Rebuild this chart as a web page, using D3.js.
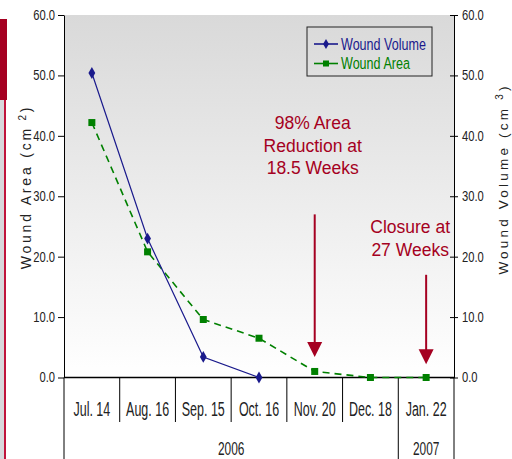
<!DOCTYPE html>
<html><head><meta charset="utf-8">
<script src="https://cdn.jsdelivr.net/npm/d3@7"></script>
<style>body{margin:0;background:#fff}svg{display:block}</style>
</head><body>
<script>
const categories = ["Jul. 14","Aug. 16","Sep. 15","Oct. 16","Nov. 20","Dec. 18","Jan. 22"];
const years = [{label:"2006", from:0, to:6},{label:"2007", from:6, to:7}];
const woundVolume = [50.4, 23.0, 3.4, 0.0, null, null, null];
const woundArea = [42.2, 20.8, 9.6, 6.5, 1.0, 0.0, 0.0];
const yTicks = [0,10,20,30,40,50,60];
const annotations = [
  {lines:["98% Area","Reduction at","18.5 Weeks"], cat:"Nov. 20", arrowFrom:27.0, arrowTo:3.4},
  {lines:["Closure at","27 Weeks"], cat:"Jan. 22", arrowFrom:17.0, arrowTo:2.2, textShift:-16}
];

const W=512,H=459;
const m={l:64,r:454,t:15,b:377.5};
const sans = "'Liberation Sans',Arial,sans-serif";
const NS = 0.8; // horizontal condense factor for tick labels
const red="#a50021", navy="#1a1a8c", green="#008000";

const svg=d3.select("body").append("svg").attr("width",W).attr("height",H);
const defs=svg.append("defs");
const g=defs.append("linearGradient").attr("id","bg").attr("x1",0).attr("y1",0).attr("x2",0).attr("y2",1);
g.append("stop").attr("offset","0%").attr("stop-color","#d9d9d9");
g.append("stop").attr("offset","100%").attr("stop-color","#ffffff");

function narrowText(parent, x, y, txt, size, anchor, color, sc){
  return parent.append("text").attr("transform",`translate(${x},${y}) scale(${sc},1)`)
    .attr("text-anchor",anchor).attr("font-family",sans).attr("font-size",size).attr("fill",color||"#222").text(txt);
}

// left decorative strip
svg.append("rect").attr("x",0).attr("y",19).attr("width",7).attr("height",81).attr("fill",red);
svg.append("rect").attr("x",0).attr("y",100).attr("width",4).attr("height",H-100).attr("fill","#d8d8dc");
svg.append("rect").attr("x",4).attr("y",100).attr("width",2).attr("height",H-100).attr("fill","#c0143c");

const x=d3.scaleBand().domain(categories).range([m.l,m.r]).padding(0);
const y=d3.scaleLinear().domain([0,60]).range([m.b,m.t]);
const y2=d3.scaleLinear().domain([0,60]).range([m.b,m.t]);

svg.append("rect").attr("x",m.l).attr("y",m.t).attr("width",m.r-m.l).attr("height",m.b-m.t).attr("fill","url(#bg)");

// left axis
const la=svg.append("g").attr("transform",`translate(${m.l},0)`)
  .call(d3.axisLeft(y).tickValues(yTicks).tickFormat(d3.format(".1f")).tickSize(6).tickSizeOuter(0));
la.select(".domain").attr("stroke","#000");
la.selectAll(".tick text").attr("font-family",sans).attr("font-size",14).attr("fill","#222")
  .attr("x",-9/NS).attr("transform",`scale(${NS},1)`);

// right axis
const ra=svg.append("g").attr("transform",`translate(${m.r},0)`)
  .call(d3.axisRight(y2).tickValues(yTicks).tickFormat(d3.format(".1f")).tickSize(4).tickSizeOuter(0));
ra.selectAll(".tick line").attr("x1",-4);
ra.selectAll(".tick text").attr("font-family",sans).attr("font-size",14).attr("fill","#222")
  .attr("x",8/NS).attr("transform",`scale(${NS},1)`);

// zero line
svg.append("line").attr("x1",m.l).attr("x2",m.r).attr("y1",y(0)).attr("y2",y(0)).attr("stroke","#000").attr("stroke-width",1.5);

// category axis
const ca=svg.append("g");
categories.forEach((c,i)=>{
  if(i>0){
    const isYear = years.some(yr=>yr.from===i);
    ca.append("line").attr("x1",x(c)).attr("x2",x(c)).attr("y1",y(0)).attr("y2",isYear?H:422).attr("stroke","#000");
  }
  narrowText(ca, x(c)+x.bandwidth()/2, 416, c, 19.5, "middle", "#222", 0.64);
});
ca.append("line").attr("x1",m.l).attr("x2",m.l).attr("y1",y(0)).attr("y2",H).attr("stroke","#000");
ca.append("line").attr("x1",m.r).attr("x2",m.r).attr("y1",y(0)).attr("y2",H).attr("stroke","#000");
years.forEach(yr=>{
  const x0=x(categories[yr.from]), x1=yr.to>=categories.length?m.r:x(categories[yr.to]);
  narrowText(ca, (x0+x1)/2, 455, yr.label, 17.5, "middle", "#222", 0.68);
});

// axis titles
function spaced(sel, parts){
  parts.forEach(p=>{
    const t=sel.append("tspan").text(p.t);
    if(p.sup) t.attr("baseline-shift","super").attr("font-size",10);
  });
}
const lt=svg.append("text").attr("transform","translate(31,187) rotate(-90)").attr("text-anchor","middle")
  .attr("font-family",sans).attr("font-size",14).attr("letter-spacing",2.8).attr("fill","#222");
spaced(lt,[{t:"Wound Area (cm"},{t:" 2",sup:true},{t:")"}]);
const rt=svg.append("text").attr("transform","translate(508,179) rotate(-90)").attr("text-anchor","middle")
  .attr("font-family",sans).attr("font-size",13.5).attr("letter-spacing",3.2).attr("fill","#222");
spaced(rt,[{t:"Wound Volume (cm"},{t:" 3",sup:true},{t:")"}]);

// lines
const cx=c=>x(c)+x.bandwidth()/2;
const volData=categories.map((c,i)=>({c,v:woundVolume[i]})).filter(d=>d.v!==null);
const areaData=categories.map((c,i)=>({c,v:woundArea[i]})).filter(d=>d.v!==null);
const line=d3.line().x(d=>cx(d.c)).y(d=>y(d.v));
svg.append("path").datum(areaData).attr("d",line).attr("fill","none").attr("stroke",green).attr("stroke-width",1.6).attr("stroke-dasharray","7,5");
svg.append("path").datum(volData).attr("d",line.y(d=>y2(d.v))).attr("fill","none").attr("stroke",navy).attr("stroke-width",1.2);
svg.selectAll(".sq").data(areaData).enter().append("rect").attr("x",d=>cx(d.c)-3.5).attr("y",d=>y(d.v)-3.5)
  .attr("width",7).attr("height",7).attr("fill",green);
svg.selectAll(".dm").data(volData).enter().append("path").attr("d",d3.symbol(d3.symbolDiamond,40))
  .attr("transform",d=>`translate(${cx(d.c)},${y2(d.v)})`).attr("fill",navy);

// annotations
annotations.forEach(a=>{
  const ax=cx(a.cat);
  const yStart=y(a.arrowFrom), yTip=y(a.arrowTo);
  svg.append("line").attr("x1",ax).attr("x2",ax).attr("y1",yStart).attr("y2",yTip-12).attr("stroke",red).attr("stroke-width",2);
  svg.append("path").attr("d",`M${ax-7.5},${yTip-15} L${ax+7.5},${yTip-15} L${ax},${yTip} Z`).attr("fill",red);
});
const a1=annotations[0], a2=annotations[1];
a1.lines.forEach((l,i)=>svg.append("text").attr("x",cx(a1.cat)-2).attr("y",129+i*22.5).attr("text-anchor","middle")
  .attr("font-family",sans).attr("font-size",17.5).attr("fill",red).text(l));
a2.lines.forEach((l,i)=>svg.append("text").attr("x",cx(a2.cat)+a2.textShift).attr("y",233+i*22.5).attr("text-anchor","middle")
  .attr("font-family",sans).attr("font-size",17.5).attr("fill",red).text(l));

// legend
const lg=svg.append("g");
lg.append("rect").attr("x",307).attr("y",27).attr("width",125).attr("height",49).attr("fill","none").attr("stroke","#222");
const legendItems=[{name:"Wound Volume",color:navy,sym:"d"},{name:"Wound Area",color:green,sym:"s"}];
legendItems.forEach((it,i)=>{
  const yy=44+i*19.5;
  lg.append("line").attr("x1",314).attr("x2",338).attr("y1",yy).attr("y2",yy).attr("stroke",it.color).attr("stroke-width",1.6);
  if(it.sym==="d") lg.append("path").attr("d",d3.symbol(d3.symbolDiamond,30)).attr("transform",`translate(326,${yy})`).attr("fill",it.color);
  else lg.append("rect").attr("x",323).attr("y",yy-3).attr("width",6).attr("height",6).attr("fill",it.color);
  narrowText(lg, 341, yy+5.5, it.name, 17, "start", it.color, 0.74);
});
</script>
</body></html>
